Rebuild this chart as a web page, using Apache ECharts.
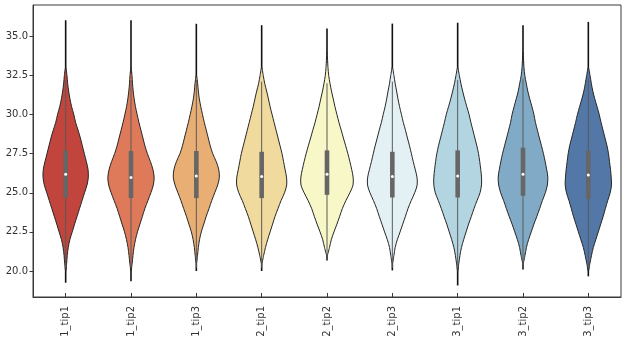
<!DOCTYPE html>
<html>
<head>
<meta charset="utf-8">
<script src="https://cdn.jsdelivr.net/npm/echarts@6/dist/echarts.min.js"></script>
<style>html,body{margin:0;padding:0;background:#fff}#c{width:629px;height:348px}</style>
</head>
<body>
<div id="c"></div>
<script>
const categories = ['1_tip1','1_tip2','1_tip3','2_tip1','2_tip2','2_tip3','3_tip1','3_tip2','3_tip3'];
const yTicks = [20, 22.5, 25, 27.5, 30, 32.5, 35];
// levels at which violin density (half-width) is read
const yLevels = [20,20.5,21,21.5,22,22.5,23,23.5,24,24.5,25,25.5,26,26.5,27,27.5,28,28.5,29,29.5,30,30.5,31,31.5,32,32.5,33,34,35];
const tailMin = [19.25,19.35,20.0,20.0,20.67,20.04,19.08,20.09,19.66];
const tailMax = [36.03,36.03,35.8,35.71,35.5,35.81,35.86,35.71,35.92];
const d1 = [0.7,1.0,1.6,2.6,4.2,6.6,9,11.5,14,16.5,19,21.5,22.8,22.5,20.8,18.8,16.8,14.8,12.5,10,8.2,6,4.3,3,2,1.3,0.8,0.6,0.5];
const d2 = [0.8,1.2,2,3,4.5,6.5,9,11.5,14,17,20,22.5,23.3,22,19.5,16.5,14,12,10,8,6.2,4.5,3.2,2.2,1.5,1,0.8,0.6,0.5];
const d3 = [null,0.8,1.2,2,3.2,5,7.5,10,12.8,15.5,18.5,21.5,23.2,22.5,20,16.5,14,12,10,8,6.2,4.5,3,2,1.3,0.9,0.7,0.6,0.5];
const d4 = [null,0.9,2,3.8,6,8.5,11,13.5,16.5,19.5,23,25.2,25,23.5,22,20.5,18.5,16.5,14.5,12.5,10.5,8.5,6.8,5,3,1.6,0.9,0.6,0.5];
const d5 = [null,null,0.9,2.5,4.3,7,10,12.8,15.5,19,23,26.2,26.3,24.8,23,21,18.8,16.5,14.3,12,10,8,6.3,4.5,3,1.7,1,0.6,0.5];
const d6 = [null,0.9,1.6,2.8,5,7.8,10.5,13.2,15.8,19,22.5,25,24.8,23,21,19.2,17.3,15.2,13.2,11,9.2,7.3,5.7,4.3,2.8,1.6,0.9,0.6,0.5];
const d7 = [0.7,1.2,2.3,3.8,6,8.5,11,13.8,16.5,19.5,22.5,24,24,23.2,22.2,21,19.3,17.3,15.3,13.3,11.5,9.2,7,5,3.2,1.7,0.9,0.6,0.5];
const d8 = [null,0.9,2,3.4,5.6,8.3,11,14,16.8,19.5,22.5,24.5,25,23.8,22.3,20.6,18.6,16.5,14.5,12.5,11,9,6.8,4.8,3.3,1.8,1,0.6,0.5];
const d9 = [0.8,1.6,3.2,5,7.5,10,12.5,15,17.2,19.5,22,23.3,23,22.3,21.3,20.3,18.8,16.8,14.8,12.8,11,8.8,6.5,4.5,3,1.7,0.9,0.6,0.5];
const q1 = [24.7,24.66,24.66,24.66,24.87,24.7,24.7,24.81,24.6];
const medians = [26.19,25.97,26.08,26.04,26.19,26.04,26.08,26.19,26.14];
const q3 = [27.71,27.67,27.67,27.62,27.71,27.62,27.71,27.88,27.71];
const whiskLo = [20.2,20.2,20.2,20.2,20.7,20.2,20.2,20.2,20.2];
const whiskHi = [32.2,32.2,32.2,32.1,32.0,32.1,32.2,32.3,32.3];

const densities = [d1,d2,d3,d4,d5,d6,d7,d8,d9];
const colors = ['#c1443d','#de7959','#e9ae74','#f0da9e','#f7f7c7','#e3f1f5','#b3d5e1','#80aac6','#5377a6'];
let maxD = 0;
densities.forEach(a => a.forEach(v => { if (v != null && v > maxD) maxD = v; }));
const BODY_MIN = 1.0;

function renderItem(params, api) {
  const i = api.value(0);
  const band = api.size([1, 0])[0];
  const sc = 0.4 * band / maxD;
  const cx = api.coord([i, 25])[0];
  const dens = densities[i];
  let lo = -1, hi = -1;
  dens.forEach((d, k) => { if (d != null && d >= BODY_MIN) { if (lo < 0) lo = k; hi = k; } });
  const ys = [], ws = [];
  const tipLo = lo > 0 && dens[lo - 1] != null ? yLevels[lo - 1] : tailMin[i];
  const tipHi = hi < yLevels.length - 1 ? yLevels[hi + 1] : tailMax[i];
  ys.push(tipLo); ws.push(0);
  for (let k = lo; k <= hi; k++) { ys.push(yLevels[k]); ws.push(dens[k]); }
  ys.push(tipHi); ws.push(0);
  const right = ys.map((y, k) => [cx + ws[k] * sc, api.coord([i, y])[1]]);
  const left = ys.map((y, k) => [cx - ws[k] * sc, api.coord([i, y])[1]]).reverse();
  const pts = right.concat(left.slice(1, left.length - 1));
  const yq1 = api.coord([i, q1[i]])[1];
  const yq3 = api.coord([i, q3[i]])[1];
  const ymed = api.coord([i, medians[i]])[1];
  const ylo = api.coord([i, whiskLo[i]])[1];
  const yhi = api.coord([i, whiskHi[i]])[1];
  const yTailLo = api.coord([i, tailMin[i]])[1];
  const yTailHi = api.coord([i, tailMax[i]])[1];
  return {
    type: 'group',
    children: [
      { type: 'line', shape: { x1: cx, y1: yTailLo, x2: cx, y2: yTailHi },
        style: { stroke: '#111111', lineWidth: 1.6 } },
      { type: 'polygon', shape: { points: pts, smooth: 0.3 },
        style: { fill: colors[i], stroke: '#262626', lineWidth: 1 } },
      { type: 'line', shape: { x1: cx, y1: ylo, x2: cx, y2: yhi },
        style: { stroke: '#5a5a5a', lineWidth: 1 } },
      { type: 'rect', shape: { x: cx - 2.3, y: yq3, width: 4.6, height: yq1 - yq3 },
        style: { fill: '#666666' } },
      { type: 'circle', shape: { cx: cx, cy: ymed, r: 1.5 },
        style: { fill: '#ffffff' } }
    ]
  };
}

const chart = echarts.init(document.getElementById('c'), null, { renderer: 'canvas' });
chart.setOption({
  animation: false,
  backgroundColor: '#ffffff',
  grid: { left: 33, right: 8, top: 5, bottom: 51, show: true, borderColor: '#3a3a3a', borderWidth: 1, backgroundColor: 'transparent' },
  xAxis: {
    type: 'category', data: categories, boundaryGap: true,
    axisLine: { lineStyle: { color: '#3a3a3a', width: 1 } },
    axisTick: { show: true, inside: true, length: 4, alignWithLabel: true, interval: 0, lineStyle: { color: '#3a3a3a' } },
    axisLabel: { interval: 0, rotate: 90, fontFamily: 'DejaVu Sans', fontSize: 10, color: '#333333', margin: 9 },
    splitLine: { show: false }
  },
  yAxis: {
    type: 'value', min: 18.34, max: 37.0,
    axisLine: { show: true, lineStyle: { color: '#3a3a3a', width: 1 } },
    axisTick: { show: true, length: 3.5, customValues: yTicks, lineStyle: { color: '#3a3a3a' } },
    axisLabel: { customValues: yTicks, formatter: v => v.toFixed(1), fontFamily: 'DejaVu Sans', fontSize: 10, color: '#333333', margin: 5 },
    splitLine: { show: false }
  },
  series: [{
    type: 'custom',
    renderItem: renderItem,
    data: categories.map((c, i) => [i]),
    encode: { x: 0 },
    clip: false
  }]
});
</script>
</body>
</html>
